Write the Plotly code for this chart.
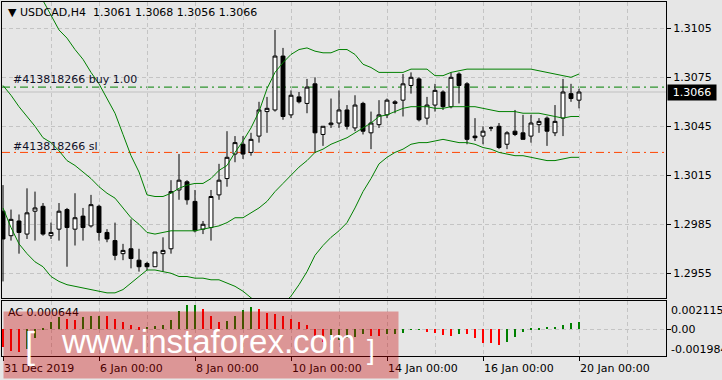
import plotly.graph_objects as go

# ---------------- data ----------------
opens = [1.2993, 1.2978, 1.2987, 1.2979, 1.2993, 1.2996, 1.2978, 1.2982, 1.2994, 1.2982,
         1.2990, 1.2984, 1.2996, 1.2980, 1.2975, 1.2967, 1.2970, 1.2963, 1.2961, 1.2959,
         1.2967, 1.2970, 1.3006, 1.3011, 1.2999, 1.2982, 1.2983, 1.3003, 1.3013, 1.3028,
         1.3034, 1.3029, 1.3039, 1.3054, 1.3055, 1.3088, 1.3052, 1.3063, 1.3059, 1.3071,
         1.3040, 1.3046, 1.3047, 1.3055, 1.3044, 1.3059, 1.3041, 1.3046, 1.3052, 1.3059,
         1.3061, 1.3070, 1.3074, 1.3050, 1.3058, 1.3066, 1.3057, 1.3077, 1.3071, 1.3039,
         1.3039, 1.3044, 1.3045, 1.3034, 1.3042, 1.3041, 1.3039, 1.3046, 1.3050, 1.3041,
         1.3050, 1.3065, 1.3061]
highs = [1.3009, 1.2994, 1.2991, 1.3007, 1.3005, 1.2998, 1.2986, 1.2998, 1.2995, 1.3004,
         1.2995, 1.3003, 1.2997, 1.2982, 1.2986, 1.2973, 1.2988, 1.2970, 1.2962, 1.2968,
         1.2977, 1.3012, 1.3028, 1.3012, 1.3006, 1.2987, 1.3006, 1.3022, 1.3042, 1.3039,
         1.3039, 1.3041, 1.3060, 1.3063, 1.3104, 1.3093, 1.3067, 1.3066, 1.3074, 1.3075,
         1.3045, 1.3062, 1.3067, 1.3058, 1.3064, 1.3060, 1.3054, 1.3061, 1.3062, 1.3061,
         1.3077, 1.3078, 1.3075, 1.3063, 1.3071, 1.3067, 1.3078, 1.3078, 1.3072, 1.3050,
         1.3045, 1.3045, 1.3047, 1.3042, 1.3055, 1.3052, 1.3052, 1.3050, 1.3051, 1.3058,
         1.3074, 1.3071, 1.3068]
lows = [1.2950, 1.2975, 1.2967, 1.2976, 1.2975, 1.2978, 1.2976, 1.2975, 1.2959, 1.2972,
        1.2975, 1.2983, 1.2975, 1.2974, 1.2963, 1.2963, 1.2958, 1.2956, 1.2957, 1.2959,
        1.2956, 1.2967, 1.3000, 1.2997, 1.2980, 1.2979, 1.2975, 1.3000, 1.3008, 1.3023,
        1.3025, 1.3027, 1.3035, 1.3041, 1.3054, 1.3049, 1.3050, 1.3059, 1.3053, 1.3029,
        1.3033, 1.3044, 1.3044, 1.3043, 1.3042, 1.3040, 1.3031, 1.3044, 1.3050, 1.3053,
        1.3051, 1.3065, 1.3048, 1.3046, 1.3054, 1.3055, 1.3056, 1.3059, 1.3034, 1.3036,
        1.3034, 1.3042, 1.3031, 1.3031, 1.3039, 1.3037, 1.3035, 1.3041, 1.3033, 1.3039,
        1.3039, 1.3060, 1.3056]
closes = [1.2976, 1.2988, 1.2980, 1.2992, 1.2995, 1.2979, 1.2980, 1.2993, 1.2983, 1.2989,
          1.2983, 1.2997, 1.2980, 1.2976, 1.2966, 1.2969, 1.2964, 1.2959, 1.2959, 1.2968,
          1.2969, 1.3005, 1.3012, 1.3000, 1.2981, 1.2985, 1.3002, 1.3012, 1.3026, 1.3035,
          1.3028, 1.3037, 1.3055, 1.3056, 1.3088, 1.3051, 1.3064, 1.3060, 1.3069, 1.3041,
          1.3045, 1.3047, 1.3055, 1.3045, 1.3058, 1.3042, 1.3047, 1.3052, 1.3061, 1.3060,
          1.3071, 1.3075, 1.3049, 1.3058, 1.3067, 1.3057, 1.3075, 1.3070, 1.3037, 1.3038,
          1.3042, 1.3044, 1.3032, 1.3041, 1.3040, 1.3037, 1.3047, 1.3048, 1.3042, 1.3048,
          1.3066, 1.3062, 1.3066]

bb_upper = [1.3146, 1.3144, 1.3143, 1.3137, 1.3130, 1.3122, 1.3113, 1.3104, 1.3099, 1.3092,
            1.3086, 1.3078, 1.3071, 1.3062, 1.3053, 1.3040, 1.3027, 1.3017, 1.3003, 1.3002,
            1.3002, 1.3004, 1.3007, 1.3009, 1.3010, 1.3010, 1.3013, 1.3018, 1.3021, 1.3029,
            1.3036, 1.3044, 1.3054, 1.3068, 1.3078, 1.3084, 1.3089, 1.3092, 1.3093, 1.3091,
            1.3090, 1.3090, 1.3092, 1.3092, 1.3089, 1.3083, 1.3081, 1.3078, 1.3078, 1.3078,
            1.3078, 1.3080, 1.3080, 1.3080, 1.3076, 1.3076, 1.3078, 1.3079, 1.3080, 1.3080,
            1.3080, 1.3080, 1.3080, 1.3080, 1.3080, 1.3080, 1.3080, 1.3079, 1.3078, 1.3077,
            1.3076, 1.3075, 1.3077]
bb_middle = [1.3070, 1.3064, 1.3057, 1.3051, 1.3045, 1.3038, 1.3035, 1.3030, 1.3024, 1.3021,
             1.3017, 1.3013, 1.3008, 1.3004, 1.3001, 1.2995, 1.2989, 1.2985, 1.2980, 1.2979,
             1.2980, 1.2981, 1.2981, 1.2981, 1.2981, 1.2982, 1.2983, 1.2984, 1.2986, 1.2989,
             1.2989, 1.2992, 1.2995, 1.2999, 1.3005, 1.3010, 1.3015, 1.3020, 1.3024, 1.3029,
             1.3031, 1.3034, 1.3036, 1.3038, 1.3041, 1.3044, 1.3047, 1.3051, 1.3052, 1.3054,
             1.3056, 1.3057, 1.3057, 1.3057, 1.3056, 1.3056, 1.3057, 1.3057, 1.3057, 1.3057,
             1.3056, 1.3055, 1.3054, 1.3054, 1.3054, 1.3053, 1.3053, 1.3053, 1.3052, 1.3051,
             1.3050, 1.3051, 1.3051]
bb_lower = [1.2995, 1.2983, 1.2973, 1.2967, 1.2962, 1.2959, 1.2953, 1.2950, 1.2948, 1.2947,
            1.2946, 1.2945, 1.2944, 1.2943, 1.2943, 1.2945, 1.2949, 1.2953, 1.2957, 1.2957,
            1.2956, 1.2955, 1.2953, 1.2953, 1.2952, 1.2952, 1.2951, 1.2951, 1.2949, 1.2947,
            1.2944, 1.2940, 1.2936, 1.2931, 1.2932, 1.2936, 1.2941, 1.2948, 1.2956, 1.2966,
            1.2972, 1.2977, 1.2981, 1.2986, 1.2995, 1.3005, 1.3013, 1.3022, 1.3026, 1.3029,
            1.3031, 1.3034, 1.3035, 1.3035, 1.3036, 1.3037, 1.3036, 1.3035, 1.3035, 1.3034,
            1.3032, 1.3031, 1.3029, 1.3028, 1.3027, 1.3027, 1.3026, 1.3025, 1.3024, 1.3024,
            1.3025, 1.3026, 1.3026]

ac_values = [-0.00151, -0.00188, -0.001984, -0.00174, -0.00078, 0.00015, 0.00067, 0.00110, 0.00087, 0.00084,
             0.00110, 0.00116, 0.00119, 0.00116, 0.00087, 0.00064, 0.00041, 0.00017, 0.00020, 0.00029,
             0.00041, 0.00081, 0.00162, 0.00209, 0.002115, 0.00174, 0.00116, 0.00064, 0.00075, 0.00116,
             0.00168, 0.00191, 0.00174, 0.00139, 0.00133, 0.00116, 0.00093, 0.00064, 0.00035, -0.00058,
             -0.00107, -0.00093, -0.00090, -0.00078, -0.00064, -0.00041, -0.00055, -0.00058, -0.00044, -0.00041,
             -0.00029, -0.00006, -0.00002, -0.00020, -0.00035, -0.00049, -0.00055, -0.00041, -0.00044, -0.00073,
             -0.00116, -0.00122, -0.00136, -0.00113, -0.00064, -0.00020, 0.00003, 0.00012, 0.00020, 0.00023,
             0.00041, 0.00058, 0.000644]

price_ticks = [1.2955, 1.2985, 1.3015, 1.3045, 1.3075, 1.3105]
time_label_idx = [0, 12, 24, 36, 48, 60, 72]
time_labels = ["31 Dec 2019", "6 Jan 00:00", "8 Jan 00:00", "10 Jan 00:00",
               "14 Jan 00:00", "16 Jan 00:00", "20 Jan 00:00"]
ac_tick_labels = ["0.002115", "0.00", "-0.001984"]
bid_price = 1.3066
buy_price = 1.3069
sl_price = 1.3029
symbol_title = "USDCAD,H4"
ohlc_last = ["1.3061", "1.3068", "1.3056", "1.3066"]
ac_title = "AC 0.000644"
buy_label = "#413818266 buy 1.00"
sl_label = "#413818266 sl"

# ---------------- geometry ----------------
W, H = 722, 380
ML, MR, MT, MB = 2, 56, 2, 24
PW, PH = W - ML - MR, H - MT - MB


def px_x(px):
    return (px - ML) / PW


def px_y(py):
    return (H - MB - py) / PH


n = len(opens)
idx = list(range(n))
BG = "#E6E6E6"
GRID = "#C4C4C4"
FONT = "DejaVu Sans"

fig = go.Figure()

fig.add_trace(go.Candlestick(
    x=idx, open=opens, high=highs, low=lows, close=closes,
    increasing=dict(line=dict(color="black", width=1), fillcolor="white"),
    decreasing=dict(line=dict(color="black", width=1), fillcolor="black"),
    whiskerwidth=0, showlegend=False, hoverinfo="skip",
    xaxis="x", yaxis="y"))

for band in (bb_upper, bb_middle, bb_lower):
    fig.add_trace(go.Scatter(x=idx, y=band, mode="lines",
                             line=dict(color="#008000", width=1),
                             showlegend=False, hoverinfo="skip",
                             xaxis="x", yaxis="y"))

ac_colors = []
for i, v in enumerate(ac_values):
    if i > 0 and v > ac_values[i - 1]:
        ac_colors.append("#008000")
    else:
        ac_colors.append("#FF0000")

fig.add_trace(go.Bar(x=idx, y=ac_values, width=0.16,
                     marker=dict(color=ac_colors, line=dict(width=0)),
                     showlegend=False, hoverinfo="skip",
                     xaxis="x2", yaxis="y2"))

main_dom = [px_y(298), 1.0]
sub_dom = [0.0, px_y(301)]
xr = [(ML - 3) / 8.0, (ML + PW - 3) / 8.0]

p_top = 1.3075 + (77.3 - MT) / 16330.0
p_bot = 1.3075 - (298 - 77.3) / 16330.0
ac_px = 0.002115 / 24.33
ac_top = (329.3 - 301) * ac_px
ac_bot = -(356 - 329.3) * ac_px

grid_idx = list(range(6, 84, 6))

fig.update_layout(
    width=W, height=H,
    margin=dict(l=ML, r=MR, t=MT, b=MB),
    paper_bgcolor=BG, plot_bgcolor=BG,
    font=dict(family=FONT, size=11, color="black"),
    bargap=0,
    xaxis=dict(domain=[0, 1], anchor="y", range=xr, rangeslider=dict(visible=False),
               showticklabels=False, ticks="", tickvals=grid_idx,
               showgrid=True, gridcolor=GRID, griddash="4px,3px", gridwidth=1,
               showline=True, linecolor="black", linewidth=1, mirror=True,
               zeroline=False, fixedrange=True),
    yaxis=dict(domain=main_dom, anchor="x", side="right", range=[p_bot, p_top],
               tickvals=price_ticks, ticktext=[f"{t:.4f}" for t in price_ticks],
               ticks="outside", ticklen=4, tickcolor="black",
               showgrid=True, gridcolor=GRID, griddash="4px,3px", gridwidth=1,
               showline=True, linecolor="black", linewidth=1, mirror=True,
               zeroline=False, tickfont=dict(size=11, family=FONT)),
    xaxis2=dict(domain=[0, 1], anchor="y2", range=xr, matches="x",
                showticklabels=False, tickvals=time_label_idx, ticks="outside",
                ticklen=4, tickcolor="black",
                showgrid=True, gridcolor=GRID, griddash="4px,3px", gridwidth=1,
                minor=dict(tickvals=[g for g in grid_idx if g not in time_label_idx],
                           showgrid=True, gridcolor=GRID, griddash="4px,3px", ticks=""),
                showline=True, linecolor="black", linewidth=1, mirror=True,
                zeroline=False),
    yaxis2=dict(domain=sub_dom, anchor="x2", side="right", range=[ac_bot, ac_top],
                tickvals=[0], showticklabels=False, ticks="outside", ticklen=4,
                tickcolor="black",
                showgrid=True, gridcolor=GRID, griddash="4px,3px", gridwidth=1,
                showline=True, linecolor="black", linewidth=1, mirror=True,
                zeroline=False),
)

shapes = [
    dict(type="line", xref="paper", x0=0, x1=1, yref="y", y0=bid_price, y1=bid_price,
         line=dict(color="#C0C0C0", width=1), layer="below"),
    dict(type="line", xref="paper", x0=0, x1=1, yref="y", y0=buy_price, y1=buy_price,
         line=dict(color="#008000", width=1, dash="8px,4px,2px,4px"), layer="below"),
    dict(type="line", xref="paper", x0=0, x1=1, yref="y", y0=sl_price, y1=sl_price,
         line=dict(color="#FF4500", width=1, dash="8px,4px,2px,4px"), layer="below"),
]
fig.update_layout(shapes=shapes)

ann = []
# title
ann.append(dict(xref="paper", yref="paper", x=px_x(6), y=px_y(13), xanchor="left",
                yanchor="middle", showarrow=False,
                text="\u25BC " + symbol_title + "\u00a0\u00a0" + " ".join(ohlc_last),
                font=dict(size=11, color="black")))
ann.append(dict(xref="paper", yref="paper", x=px_x(11), y=px_y(80), xanchor="left",
                yanchor="middle", showarrow=False, text=buy_label,
                font=dict(size=11, color="#101028")))
ann.append(dict(xref="paper", yref="paper", x=px_x(11), y=px_y(146), xanchor="left",
                yanchor="middle", showarrow=False, text=sl_label,
                font=dict(size=11, color="#101028")))
# current price box
ann.append(dict(xref="paper", yref="y", x=1, y=bid_price, xanchor="left", yanchor="middle",
                xshift=1, showarrow=False, text=f"{bid_price:.4f}", bgcolor="black",
                borderpad=1, width=46, font=dict(size=11, color="white")))
# AC axis labels
for lab, py in zip(ac_tick_labels, [310, 329.3, 349]):
    ann.append(dict(xref="paper", yref="paper", x=1, y=px_y(py), xanchor="left",
                    yanchor="middle", xshift=3, showarrow=False, text=lab,
                    font=dict(size=11, color="black")))
# AC title
ann.append(dict(xref="paper", yref="paper", x=px_x(6), y=px_y(312), xanchor="left",
                yanchor="middle", showarrow=False, text=ac_title,
                font=dict(size=11, color="black")))
# time labels
for i, lab in zip(time_label_idx, time_labels):
    ann.append(dict(xref="x2", yref="paper", x=i, y=0, xanchor="left", yanchor="top",
                    yshift=-4, xshift=-1, showarrow=False, text=lab,
                    font=dict(size=11, color="black")))
# watermark box + text
ann.append(dict(xref="paper", yref="paper", x=px_x(3), y=px_y(311), xanchor="left",
                yanchor="top", showarrow=False, text="\u00a0", width=394, height=66,
                borderpad=0, bgcolor="rgba(200,0,0,0.35)"))
ann.append(dict(xref="paper", yref="paper", x=px_x(208), y=px_y(341), xanchor="center",
                yanchor="middle", showarrow=False, text="www.instaforex.com",
                font=dict(family="Liberation Sans", size=33, color="white")))
ann.append(dict(xref="paper", yref="paper", x=px_x(30), y=px_y(345), xanchor="center",
                yanchor="middle", showarrow=False, text="[",
                font=dict(family="Liberation Sans", size=36, color="white")))
ann.append(dict(xref="paper", yref="paper", x=px_x(371), y=px_y(349), xanchor="center",
                yanchor="middle", showarrow=False, text="]",
                font=dict(family="Liberation Sans", size=28, color="white")))
fig.update_layout(annotations=ann)

fig.write_html("out.html")
